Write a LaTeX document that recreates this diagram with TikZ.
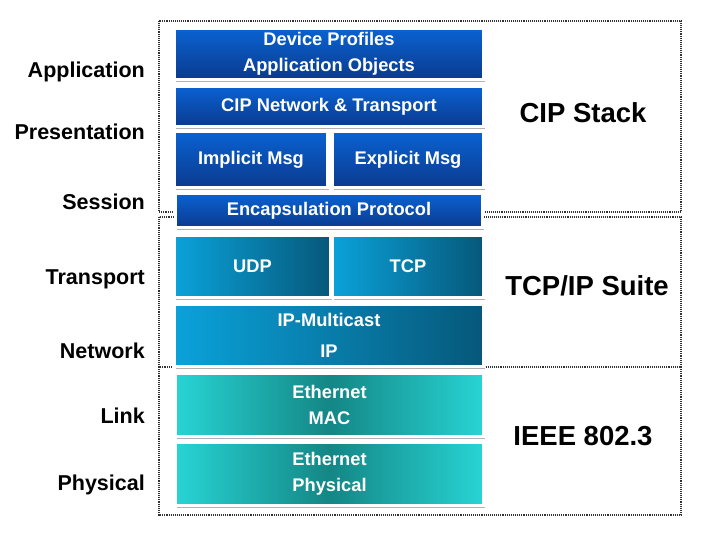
\documentclass[tikz,border=0pt]{standalone}
\usepackage{fontspec}
\setmainfont{Liberation Sans}
\usetikzlibrary{shadows}
\definecolor{bluetop}{HTML}{0A62D2}
\definecolor{bluebot}{HTML}{0A3A8E}
\definecolor{tcpleft}{HTML}{0AA2DA}
\definecolor{tcpright}{HTML}{06587A}
\definecolor{ethlight}{HTML}{28D4D4}
\definecolor{ethdark}{HTML}{148686}
\definecolor{dotcol}{HTML}{333333}
\tikzset{
  layerbox/.style={rectangle, draw=white, line width=3pt, inner sep=0pt, outer sep=0pt,
    text=white, font=\fontsize{18.3}{26}\selectfont\bfseries, align=center,
    drop shadow={shadow xshift=1.2pt, shadow yshift=-2.5pt, opacity=0.3, fill=black}},
  bluebox/.style={layerbox, top color=bluetop, bottom color=bluebot},
  tcpbox/.style={layerbox, left color=tcpleft, right color=tcpright},
  ethbox/.style={layerbox, left color=ethlight, right color=ethlight, middle color=ethdark},
  group/.style={draw=dotcol, line width=1.1pt, densely dotted},
  osilabel/.style={anchor=base east, font=\fontsize{21.5}{24}\selectfont\bfseries, text=black, inner sep=0pt},
  grouplabel/.style={anchor=base, font=\fontsize{27.5}{30}\selectfont\bfseries, text=black, inner sep=0pt}
}
\begin{document}
\begin{tikzpicture}[x=1pt, y=-1pt]
\useasboundingbox[fill=white] (0,0) rectangle (710,540);
% dotted group frames
\draw[group] (159,21) rectangle (681,212);
\draw[group] (159,217) rectangle (681,367);
\draw[group] (159,367) rectangle (681,515);
% layer boxes
\node[bluebox, minimum width=309pt, minimum height=51pt] (dev) at (329,54) {Device Profiles\\Application Objects};
\node[bluebox, minimum width=309pt, minimum height=40pt] (cipnet) at (329,106.5) {CIP Network \& Transport};
\node[bluebox, minimum width=153pt, minimum height=56pt] (impl) at (251,159.5) {Implicit Msg};
\node[bluebox, minimum width=151pt, minimum height=56pt] (expl) at (408,159.5) {Explicit Msg};
\node[bluebox, minimum width=307pt, minimum height=34pt] (enc) at (329,210.5) {Encapsulation Protocol};
\node[tcpbox, minimum width=156pt, minimum height=62pt] (udp) at (252.5,266.5) {UDP};
\node[tcpbox, minimum width=151pt, minimum height=62pt] (tcp) at (408,266.5) {TCP};
\node[tcpbox, minimum width=309pt, minimum height=62pt] (ip) at (329,335.5) {IP-Multicast\\[5pt]IP};
\node[ethbox, minimum width=308pt, minimum height=63pt] (mac) at (329.5,405) {Ethernet\\MAC};
\node[ethbox, minimum width=308pt, minimum height=63pt] (phy) at (329.5,474) {Ethernet\\Physical};
% OSI layer labels
\node[osilabel] (app) at (145,78) {Application};
\node[osilabel] (pres) at (145,140) {Presentation};
\node[osilabel] (sess) at (145,210) {Session};
\node[osilabel] (trans) at (145,285) {Transport};
\node[osilabel] (net) at (145,358) {Network};
\node[osilabel] (link) at (145,423) {Link};
\node[osilabel] (phys) at (145,490) {Physical};
% group labels
\node[grouplabel] (cipstack) at (583,123) {CIP Stack};
\node[grouplabel] (tcpip) at (587,295) {TCP/IP Suite};
\node[grouplabel] (ieee) at (583,445) {IEEE 802.3};
\end{tikzpicture}
\end{document}
